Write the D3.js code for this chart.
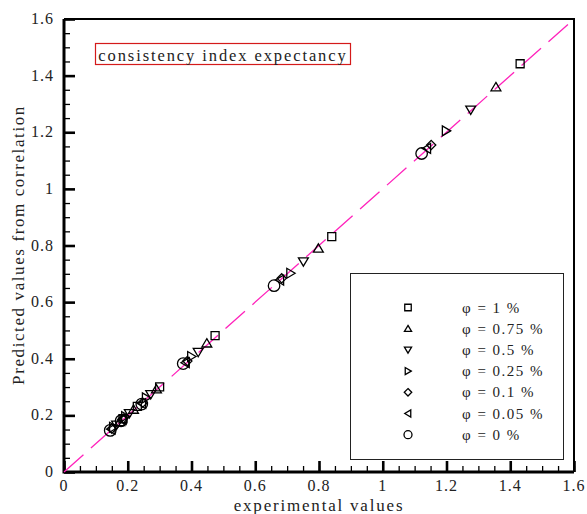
<!DOCTYPE html>
<html>
<head>
<meta charset="utf-8">
<script src="https://cdn.jsdelivr.net/npm/d3@7"></script>
<style>
  html, body { margin: 0; padding: 0; background: #fff; }
  svg { display: block; }
  text { font-family: "Liberation Serif", "DejaVu Serif", serif; fill: #222; }
</style>
</head>
<body>
<svg id="chart" width="587" height="514"></svg>
<script>
// Experimental vs. predicted consistency index for each nanoparticle fraction
const seriesNames = ["φ = 1 %", "φ = 0.75 %", "φ = 0.5 %", "φ = 0.25 %", "φ = 0.1 %", "φ = 0.05 %", "φ = 0 %"];
const seriesSymbols = ["square", "up", "down", "right", "diamond", "left", "circle"];

const expPhi1   = [0.185, 0.230, 0.300, 0.474, 0.840, 1.431];
const predPhi1  = [0.188, 0.232, 0.301, 0.482, 0.831, 1.442];
const expPhi075  = [0.175, 0.218, 0.290, 0.448, 0.798, 1.355];
const predPhi075 = [0.177, 0.221, 0.293, 0.455, 0.790, 1.360];
const expPhi05  = [0.165, 0.205, 0.272, 0.421, 0.751, 1.276];
const predPhi05 = [0.166, 0.207, 0.274, 0.423, 0.743, 1.279];
const expPhi025  = [0.155, 0.193, 0.258, 0.400, 0.711, 1.199];
const predPhi025 = [0.158, 0.196, 0.262, 0.408, 0.702, 1.205];
const expPhi01  = [0.150, 0.186, 0.247, 0.387, 0.683, 1.152];
const predPhi01 = [0.153, 0.189, 0.245, 0.392, 0.684, 1.155];
const expPhi005  = [0.148, 0.183, 0.244, 0.381, 0.677, 1.138];
const predPhi005 = [0.151, 0.186, 0.242, 0.386, 0.678, 1.143];
const expPhi0  = [0.145, 0.179, 0.244, 0.374, 0.659, 1.122];
const predPhi0 = [0.147, 0.181, 0.240, 0.383, 0.658, 1.125];

const expValues  = [expPhi1, expPhi075, expPhi05, expPhi025, expPhi01, expPhi005, expPhi0];
const predValues = [predPhi1, predPhi075, predPhi05, predPhi025, predPhi01, predPhi005, predPhi0];

const xTicks = [0, 0.2, 0.4, 0.6, 0.8, 1, 1.2, 1.4, 1.6];
const yTicks = [0, 0.2, 0.4, 0.6, 0.8, 1, 1.2, 1.4, 1.6];
const minorTicks = d3.range(0, 1.6001, 0.05);

const titleText = "consistency index expectancy";
const xLabel = "experimental values";
const yLabel = "Predicted values from correlation";

const svg = d3.select("#chart");
const plotL = 64, plotR = 574, plotT = 19, plotB = 472;

const x = d3.scaleLinear().domain([0, 1.6]).range([plotL, plotR]);
const y = d3.scaleLinear().domain([0, 1.6]).range([plotB, plotT]);

// frame: top and right edges
svg.append("path")
  .attr("d", `M${plotL},${plotT}H${plotR}V${plotB}`)
  .attr("fill", "none").attr("stroke", "#000").attr("stroke-width", 2);

// bottom axis, ticks pointing inward
const xMinor = svg.append("g").attr("transform", `translate(0,${plotB})`)
  .call(d3.axisTop(x).tickValues(minorTicks).tickSize(6).tickFormat(""));
xMinor.selectAll(".tick line").attr("stroke-width", 1.3);
const xMajor = svg.append("g").attr("transform", `translate(0,${plotB})`)
  .call(d3.axisTop(x).tickValues(xTicks).tickSize(11).tickFormat(""));
xMajor.selectAll(".tick line").attr("stroke-width", 2.6);
svg.append("g").selectAll("text").data(xTicks).join("text")
  .attr("x", d => x(d)).attr("y", plotB + 19)
  .attr("text-anchor", "middle").attr("font-size", 16).attr("fill", "#333")
  .style("letter-spacing", "1px")
  .text(d => d3.format("~g")(d));

// left axis, ticks pointing inward
const yMinor = svg.append("g").attr("transform", `translate(${plotL},0)`)
  .call(d3.axisRight(y).tickValues(minorTicks).tickSize(6).tickFormat(""));
yMinor.selectAll(".tick line").attr("stroke-width", 1.3);
const yMajor = svg.append("g").attr("transform", `translate(${plotL},0)`)
  .call(d3.axisRight(y).tickValues(yTicks).tickSize(11).tickFormat(""));
yMajor.selectAll(".tick line").attr("stroke-width", 2.6);
svg.selectAll(".domain").remove();
svg.append("g").selectAll("text").data(yTicks).join("text")
  .attr("x", plotL - 10).attr("y", d => y(d) + 5)
  .attr("text-anchor", "end").attr("font-size", 16).attr("fill", "#333")
  .style("letter-spacing", "1px")
  .text(d => d3.format("~g")(d));

// heavy axis lines
svg.append("path")
  .attr("d", `M${plotL},${plotT}V${plotB}H${plotR}`)
  .attr("fill", "none").attr("stroke", "#000").attr("stroke-width", 3);

// parity line
svg.append("line")
  .attr("x1", x(0)).attr("y1", y(0)).attr("x2", x(1.6)).attr("y2", y(1.6))
  .attr("stroke", "#ff22bb").attr("stroke-width", 1.3)
  .attr("stroke-dasharray", "26,10");

// marker shapes
function markerPath(kind, s) {
  const h = s / 2;
  switch (kind) {
    case "square":  return `M${-h},${-h}H${h}V${h}H${-h}Z`;
    case "up":      return `M0,${-h}L${h * 1.1},${h * 0.85}H${-h * 1.1}Z`;
    case "down":    return `M0,${h}L${h * 1.1},${-h * 0.85}H${-h * 1.1}Z`;
    case "right":   return `M${h},0L${-h * 0.85},${h * 1.1}V${-h * 1.1}Z`;
    case "left":    return `M${-h},0L${h * 0.85},${h * 1.1}V${-h * 1.1}Z`;
    case "diamond": return `M0,${-h * 1.15}L${h * 1.15},0L0,${h * 1.15}L${-h * 1.15},0Z`;
    case "circle":  return `M${h},0A${h},${h} 0 1 1 ${-h},0A${h},${h} 0 1 1 ${h},0Z`;
  }
}
const plotSize = { square: 8, up: 9, down: 9, right: 9, left: 9, diamond: 8, circle: 11.5 };

const points = svg.append("g");
seriesSymbols.forEach((sym, i) => {
  points.selectAll(null).data(expValues[i].map((v, j) => [v, predValues[i][j]]))
    .join("path")
    .attr("transform", d => `translate(${x(d[0])},${y(d[1])})`)
    .attr("d", markerPath(sym, plotSize[sym]))
    .attr("fill", "none").attr("stroke", "#000").attr("stroke-width", 1.3);
});

// title box
svg.append("rect")
  .attr("x", 95.5).attr("y", 43.5).attr("width", 255).attr("height", 21)
  .attr("fill", "#fff").attr("stroke", "#d41a1a").attr("stroke-width", 1.2);
svg.append("text")
  .attr("x", 223).attr("y", 60.5).attr("text-anchor", "middle")
  .attr("font-size", 16.5).style("letter-spacing", "1.9px")
  .text(titleText);

// legend
const legend = svg.append("g");
legend.append("rect")
  .attr("x", 350.5).attr("y", 273.5).attr("width", 213).attr("height", 186)
  .attr("fill", "#fff").attr("stroke", "#222").attr("stroke-width", 1);
seriesNames.forEach((name, i) => {
  const ly = 307.5 + i * 21.2;
  const sym = seriesSymbols[i];
  legend.append("path")
    .attr("transform", `translate(408,${ly})`)
    .attr("d", markerPath(sym, sym === "circle" ? 8 : 6.5))
    .attr("fill", "none").attr("stroke", "#000").attr("stroke-width", 1.3);
  legend.append("text")
    .attr("x", 462).attr("y", ly + 5)
    .attr("font-size", 15).style("letter-spacing", "1.5px")
    .text(name);
});

// axis titles
svg.append("text")
  .attr("x", 319).attr("y", 510.5).attr("text-anchor", "middle")
  .attr("font-size", 17).style("letter-spacing", "1.8px")
  .text(xLabel);
svg.append("text")
  .attr("transform", "translate(24,245) rotate(-90)")
  .attr("text-anchor", "middle")
  .attr("font-size", 17).style("letter-spacing", "1.6px")
  .text(yLabel);
</script>
</body>
</html>
